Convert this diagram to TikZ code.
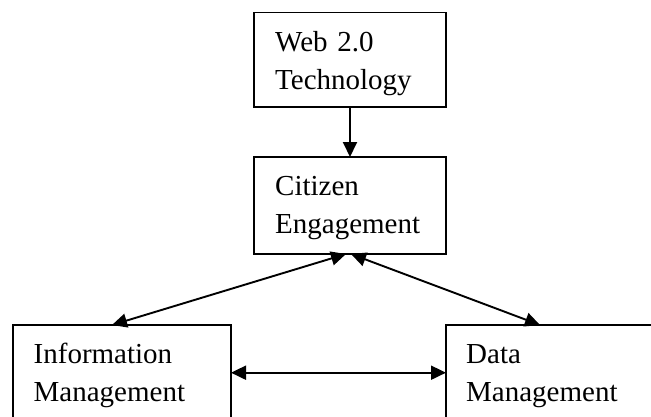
\documentclass[tikz,border=0pt]{standalone}
\usepackage{fontspec}
\setmainfont{Liberation Serif}
\usetikzlibrary{arrows.meta,calc}
\begin{document}
\begin{tikzpicture}[x=1pt,y=-1pt,
  box/.style={draw,line width=1.9pt,anchor=north west,inner sep=0pt,outer sep=0pt},
  lbl/.style={anchor=base west,inner sep=0pt,align=left,text width=200pt,font=\fontsize{29}{38}\selectfont},
  oneway/.style={line width=1.9pt,-{Triangle[length=15pt,width=14pt]}},
  twoway/.style={line width=1.9pt,{Triangle[length=15pt,width=14pt]}-{Triangle[length=15pt,width=14pt]}}]
\useasboundingbox (0,0) rectangle (651,416);
\clip (0,0) rectangle (651,416);
\node[box,minimum width=192pt,minimum height=94.5pt] (web) at (254,12.5) {};
\node[box,minimum width=192pt,minimum height=97pt] (cit) at (254,157) {};
\node[box,minimum width=218pt,minimum height=120pt] (info) at (13,325) {};
\node[box,minimum width=250pt,minimum height=120pt] (data) at (446,325) {};
\node[lbl] (webt) at (275,51.7) {Web 2.0\\Technology};
\node[lbl] (citt) at (275,195) {Citizen\\Engagement};
\node[lbl] (infot) at (33.5,363.3) {Information\\Management};
\node[lbl] (datat) at (466,363.3) {Data\\Management};
\draw[oneway] (web.south) -- (cit.north);
\draw[twoway] ($(cit.south)+(-4,0)$) -- ($(info.north west)+(99,0)$);
\draw[twoway] ($(cit.south)+(1,0)$) -- ($(data.north west)+(94,0)$);
\draw[twoway] ($(info.north east)+(0,47.7)$) -- ($(data.north west)+(0,47.7)$);
\end{tikzpicture}
\end{document}
